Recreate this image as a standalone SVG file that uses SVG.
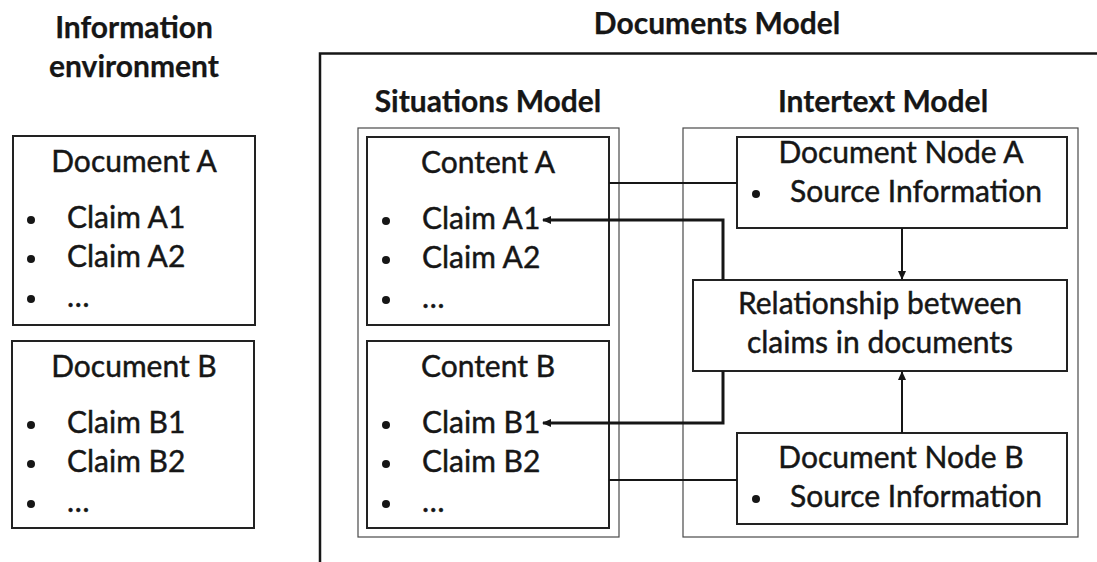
<svg xmlns="http://www.w3.org/2000/svg" width="1097" height="562" viewBox="0 0 1097 562">
  <style>
    text { font-family: Lato, "Open Sans", sans-serif; fill: #161616; }
    .h { font-weight: bold; font-size: 30px; text-anchor: middle; stroke: #161616; stroke-width: 0.25; }
    .t { font-size: 30px; stroke: #161616; stroke-width: 0.45; }
    .c { text-anchor: middle; }
    .box { fill: #fff; stroke: #222; stroke-width: 2; }
    .group { fill: none; stroke: #4a4a4a; stroke-width: 1.2; }
    .frame { fill: none; stroke: #161616; stroke-width: 2.5; }
    .link { fill: none; stroke: #161616; stroke-width: 2; }
    .link3 { fill: none; stroke: #161616; stroke-width: 3; }
    .dot { fill: #161616; }
  </style>
  <defs>
    <marker id="arrow" markerWidth="10" markerHeight="10" refX="8" refY="5" orient="auto" markerUnits="userSpaceOnUse">
      <path d="M0,1 L9,5 L0,9 Z" fill="#161616"/>
    </marker>
  </defs>
  <rect width="1097" height="562" fill="#fff"/>

  <!-- headings -->
  <text class="h" x="134" y="38">Information</text>
  <text class="h" x="134" y="77">environment</text>
  <text class="h" x="717" y="34">Documents Model</text>

  <!-- Documents Model frame (open on the right and bottom) -->
  <path class="frame" d="M1097,53.5 H320 V562"/>

  <text class="h" x="488" y="112">Situations Model</text>
  <text class="h" x="883" y="112">Intertext Model</text>

  <!-- group outlines -->
  <rect class="group" x="358" y="128" width="261" height="409"/>
  <rect class="group" x="683" y="128" width="395" height="409"/>

  <!-- Information environment -->
  <g id="document-a">
    <rect class="box" x="13" y="136" width="242" height="189"/>
    <text class="t c" x="134" y="172">Document A</text>
    <circle class="dot" cx="31" cy="220" r="4"/>
    <text class="t" x="67" y="228">Claim A1</text>
    <circle class="dot" cx="31" cy="259" r="4"/>
    <text class="t" x="67" y="267">Claim A2</text>
    <circle class="dot" cx="31" cy="299" r="4"/>
    <text class="t" x="67" y="307">…</text>
  </g>
  <g id="document-b">
    <rect class="box" x="12" y="341" width="242" height="187"/>
    <text class="t c" x="134" y="377">Document B</text>
    <circle class="dot" cx="31" cy="425" r="4"/>
    <text class="t" x="67" y="433">Claim B1</text>
    <circle class="dot" cx="31" cy="464" r="4"/>
    <text class="t" x="67" y="472">Claim B2</text>
    <circle class="dot" cx="31" cy="504" r="4"/>
    <text class="t" x="67" y="512">…</text>
  </g>

  <!-- Situations Model -->
  <g id="content-a">
    <rect class="box" x="367" y="137" width="242" height="188"/>
    <text class="t c" x="488" y="173">Content A</text>
    <circle class="dot" cx="386" cy="221" r="4"/>
    <text class="t" x="422" y="229">Claim A1</text>
    <circle class="dot" cx="386" cy="260" r="4"/>
    <text class="t" x="422" y="268">Claim A2</text>
    <circle class="dot" cx="386" cy="300" r="4"/>
    <text class="t" x="422" y="308">…</text>
  </g>
  <g id="content-b">
    <rect class="box" x="367" y="341" width="242" height="187"/>
    <text class="t c" x="488" y="377">Content B</text>
    <circle class="dot" cx="386" cy="425" r="4"/>
    <text class="t" x="422" y="433">Claim B1</text>
    <circle class="dot" cx="386" cy="464" r="4"/>
    <text class="t" x="422" y="472">Claim B2</text>
    <circle class="dot" cx="386" cy="504" r="4"/>
    <text class="t" x="422" y="512">…</text>
  </g>

  <!-- Intertext Model -->
  <g id="document-node-a">
    <rect class="box" x="737" y="137" width="330" height="91"/>
    <text class="t c" x="901" y="163">Document Node A</text>
    <circle class="dot" cx="756" cy="194" r="4"/>
    <text class="t" x="790" y="202">Source Information</text>
  </g>
  <g id="relationship">
    <rect class="box" x="693" y="280" width="374" height="91"/>
    <text class="t c" x="880" y="314">Relationship between</text>
    <text class="t c" x="880" y="353">claims in documents</text>
  </g>
  <g id="document-node-b">
    <rect class="box" x="737" y="433" width="330" height="91"/>
    <text class="t c" x="901" y="468">Document Node B</text>
    <circle class="dot" cx="756" cy="499" r="4"/>
    <text class="t" x="790" y="507">Source Information</text>
  </g>

  <!-- connectors -->
  <g id="connectors">
    <path class="link" d="M609,183 H737"/>
    <path class="link" d="M609,480 H737"/>
    <path class="link3" d="M723,280 V220 H543" marker-end="url(#arrow)"/>
    <path class="link3" d="M723,371 V423 H543" marker-end="url(#arrow)"/>
    <path class="link" d="M902,228 V279" marker-end="url(#arrow)"/>
    <path class="link" d="M902,433 V372" marker-end="url(#arrow)"/>
  </g>
</svg>
